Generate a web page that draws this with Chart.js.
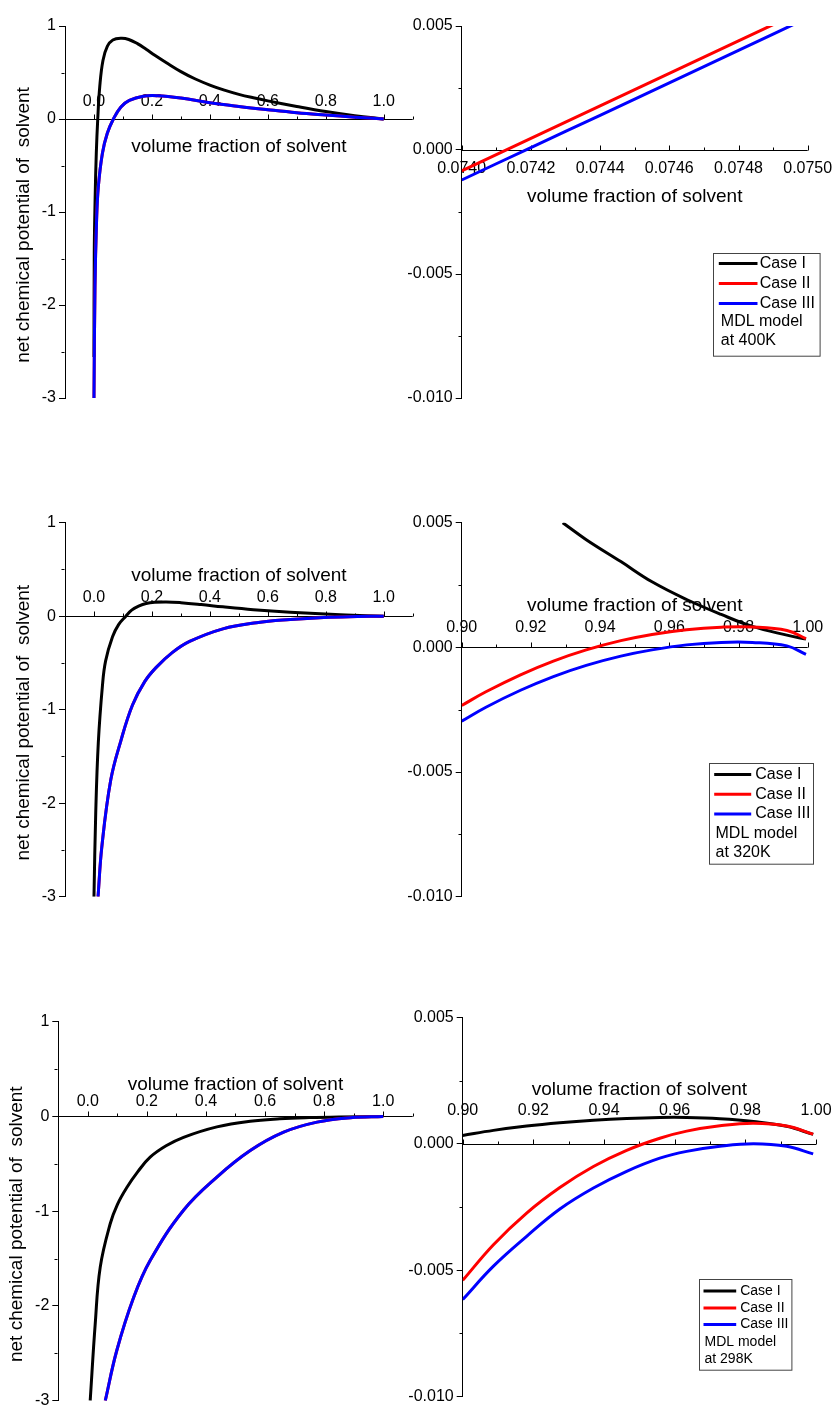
<!DOCTYPE html>
<html>
<head>
<meta charset="utf-8">
<title>net chemical potential of solvent - MDL model</title>
<script src="https://cdn.jsdelivr.net/npm/chart.js@4.4.0/dist/chart.umd.min.js"></script>
<style>
    html, body { margin: 0; padding: 0; background: #fff; overflow: hidden; }
    #wrap { position: relative; width: 836px; height: 1405px; }
    canvas { position: absolute; }
</style>
</head>
<body>
<div id="wrap">
    <canvas id="c1L"></canvas>
    <canvas id="c1R"></canvas>
    <canvas id="c2L"></canvas>
    <canvas id="c2R"></canvas>
    <canvas id="c3L"></canvas>
    <canvas id="c3R"></canvas>
</div>
<script>
// ═══════════════════════════════════════════════════════════════
// DATA
// ═══════════════════════════════════════════════════════════════

var caseLabels = ['Case I', 'Case II', 'Case III'];
var caseColors = ['#000000', '#ff0000', '#0000ff'];
var xTitle     = 'volume fraction of solvent';
var yTitle     = 'net chemical potential of  solvent';

// ticks, full range panels (left)
var xLabelsWide = ['0.0', '0.2', '0.4', '0.6', '0.8', '1.0'];
var xMinorWide  = [0.1, 0.3, 0.5, 0.7, 0.9, 1.1];
var yTicksWide  = [-3, -2, -1, 0, 1];
var yLabelsWide = ['-3', '-2', '-1', '0', '1'];
var yMinorWide  = [-2.5, -1.5, -0.5, 0.5];

// ticks, zoomed panels (right)
var yTicksZoom  = [-0.010, -0.005, 0, 0.005];
var yLabelsZoom = ['-0.010', '-0.005', '0.000', '0.005'];
var yMinorZoom  = [-0.0075, -0.0025, 0.0025];
var xLabels400  = ['0.0740', '0.0742', '0.0744', '0.0746', '0.0748', '0.0750'];
var xMinor400   = [0.0741, 0.0743, 0.0745, 0.0747, 0.0749];
var xLabelsEnd  = ['0.90', '0.92', '0.94', '0.96', '0.98', '1.00'];
var xMinorEnd   = [0.91, 0.93, 0.95, 0.97, 0.99];

// 400K, full range
var x400I   = [0.000, 0.001, 0.004, 0.008, 0.013, 0.020, 0.031, 0.046, 0.065, 0.095, 0.12, 0.15, 0.18, 0.21, 0.25, 0.30, 0.35, 0.40, 0.45, 0.50, 0.55, 0.60, 0.70, 0.80, 0.90, 1.00];
var y400I   = [-2.56, -1.44, -0.85, -0.37, 0.00, 0.35, 0.63, 0.78, 0.85, 0.868, 0.855, 0.81, 0.75, 0.685, 0.605, 0.51, 0.43, 0.365, 0.31, 0.265, 0.228, 0.195, 0.135, 0.08, 0.035, 0.00];
var x400II  = [0.000, 0.0035, 0.009, 0.015, 0.029, 0.046, 0.067, 0.093, 0.122, 0.17, 0.22, 0.30, 0.40, 0.50, 0.60, 0.70, 0.80, 0.90, 1.00];
var y400II  = [-3.00, -1.80, -1.09, -0.73, -0.37, -0.154, 0.00, 0.13, 0.20, 0.245, 0.25, 0.225, 0.175, 0.135, 0.10, 0.068, 0.043, 0.02, 0.00];
var x400III = [0.000, 0.0035, 0.009, 0.015, 0.029, 0.046, 0.067, 0.093, 0.122, 0.17, 0.22, 0.30, 0.40, 0.50, 0.60, 0.70, 0.80, 0.90, 1.00];
var y400III = [-3.00, -1.80, -1.09, -0.73, -0.37, -0.154, 0.00, 0.13, 0.20, 0.245, 0.25, 0.225, 0.175, 0.135, 0.10, 0.068, 0.043, 0.02, 0.00];

// 400K, zoom near the zero crossing (Case I is far above this window)
var x400zI   = [];
var y400zI   = [];
var x400z    = [0.0740, 0.0742, 0.0744, 0.0746, 0.0748, 0.0750];
var y400zII  = [-0.00084, 0.00047, 0.00178, 0.00309, 0.00440, 0.00571];
var y400zIII = [-0.00121, 0.00010, 0.00140, 0.00271, 0.00402, 0.00533];

// 320K, full range
var x320I   = [0.000, 0.006, 0.015, 0.029, 0.040, 0.064, 0.085, 0.110, 0.13, 0.156, 0.18, 0.21, 0.249, 0.30, 0.37, 0.445, 0.55, 0.677, 0.85, 1.00];
var y320I   = [-3.00, -2.11, -1.35, -0.75, -0.48, -0.22, -0.09, 0.00, 0.065, 0.11, 0.135, 0.148, 0.153, 0.145, 0.125, 0.10, 0.07, 0.043, 0.016, 0.00];
var x320II  = [0.014, 0.027, 0.058, 0.093, 0.133, 0.175, 0.214, 0.27, 0.33, 0.445, 0.561, 0.677, 0.793, 0.909, 1.00];
var y320II  = [-3.00, -2.47, -1.75, -1.33, -0.95, -0.70, -0.55, -0.39, -0.27, -0.135, -0.07, -0.036, -0.014, -0.004, 0.00];
var x320III = [0.014, 0.027, 0.058, 0.093, 0.133, 0.175, 0.214, 0.27, 0.33, 0.445, 0.561, 0.677, 0.793, 0.909, 1.00];
var y320III = [-3.00, -2.47, -1.75, -1.33, -0.95, -0.70, -0.55, -0.39, -0.27, -0.135, -0.07, -0.036, -0.014, -0.004, 0.00];

// 320K, zoom 0.90 - 1.00
var x320zI   = [0.9292, 0.936, 0.946, 0.955, 0.965, 0.975, 0.984, 0.994, 0.9995];
var y320zI   = [0.0050, 0.00432, 0.00344, 0.00263, 0.00192, 0.00132, 0.00084, 0.00049, 0.00033];
var x320z    = [0.900, 0.907, 0.917, 0.9265, 0.936, 0.946, 0.955, 0.965, 0.975, 0.984, 0.994, 0.9995];
var y320zII  = [-0.00233, -0.00178, -0.00110, -0.00055, -0.00010, 0.00027, 0.00052, 0.00071, 0.00081, 0.00082, 0.00068, 0.00035];
var y320zIII = [-0.00296, -0.00240, -0.00172, -0.00117, -0.00072, -0.00035, -0.00010, 0.00010, 0.00020, 0.00020, 0.00006, -0.00028];

// 298K, full range
var x298I   = [0.008, 0.025, 0.042, 0.076, 0.10, 0.132, 0.17, 0.211, 0.265, 0.324, 0.437, 0.55, 0.65, 0.75, 0.85, 1.00];
var y298I   = [-3.00, -2.19, -1.59, -1.13, -0.93, -0.75, -0.58, -0.43, -0.31, -0.22, -0.11, -0.05, -0.025, -0.012, -0.005, 0.00];
var x298II  = [0.059, 0.098, 0.155, 0.211, 0.324, 0.437, 0.55, 0.663, 0.776, 0.89, 1.00];
var y298II  = [-3.00, -2.47, -1.91, -1.52, -0.99, -0.64, -0.36, -0.166, -0.06, -0.013, 0.00];
var x298III = [0.059, 0.098, 0.155, 0.211, 0.324, 0.437, 0.55, 0.663, 0.776, 0.89, 1.00];
var y298III = [-3.00, -2.47, -1.91, -1.52, -0.99, -0.64, -0.36, -0.166, -0.06, -0.013, 0.00];

// 298K, zoom 0.90 - 1.00
var x298z    = [0.900, 0.9087, 0.9181, 0.9275, 0.937, 0.9464, 0.9558, 0.9634, 0.9728, 0.9823, 0.9917, 0.9992];
var y298zI   = [0.00033, 0.00053, 0.00070, 0.00083, 0.00093, 0.00100, 0.00104, 0.00104, 0.00099, 0.00088, 0.00069, 0.00037];
var y298zII  = [-0.00540, -0.00399, -0.00274, -0.00173, -0.00090, -0.00026, 0.00022, 0.00050, 0.00071, 0.00081, 0.00070, 0.00038];
var y298zIII = [-0.00616, -0.00484, -0.00366, -0.00258, -0.00175, -0.00109, -0.00057, -0.00030, -0.00010, 0.00000, -0.00010, -0.00040];

// ═══════════════════════════════════════════════════════════════
// PANEL LAYOUT
// ═══════════════════════════════════════════════════════════════

var FONT = '"Liberation Sans", Arial, sans-serif';

var wide = { xMin: -0.1, xMax: 1.1, yMin: -3, yMax: 1, yTicks: yTicksWide, yLabels: yLabelsWide, yMinor: yMinorWide, xLabels: xLabelsWide, xMinor: xMinorWide };

var panels = [
    { id: 'c1L', box: [0, 0, 418, 480],     area: [65, 26, 412.7, 398],
      axes: wide, labelDy: -13.7, titleDy: 32.7, yTitle: true,
      series: [[x400I, y400I], [x400II, y400II], [x400III, y400III]] },
    { id: 'c1R', box: [395, 0, 441, 480],   area: [461.7, 26, 807.7, 398],
      axes: { xMin: 0.0740, xMax: 0.0750, yMin: -0.010, yMax: 0.005, yTicks: yTicksZoom, yLabels: yLabelsZoom, yMinor: yMinorZoom, xLabels: xLabels400, xMinor: xMinor400 },
      labelDy: 22.7, titleDy: 51.7, note: 'at 400K',
      legend: { dx: 251, dy: 227.3, w: 106.6, h: 102.7, font: 16, rows: [10, 30, 50, 68.4, 86.7], line: [5.3, 44], textX: 46.3, noteX: 7.3 },
      series: [[x400zI, y400zI], [x400z, y400zII], [x400z, y400zIII]] },
    { id: 'c2L', box: [0, 480, 418, 480],   area: [65, 522.7, 412.7, 896.7],
      axes: wide, labelDy: -15, titleDy: -36, yTitle: true,
      series: [[x320I, y320I], [x320II, y320II], [x320III, y320III]] },
    { id: 'c2R', box: [395, 480, 441, 480], area: [461.7, 522.7, 807.7, 896.7],
      axes: { xMin: 0.90, xMax: 1.00, yMin: -0.010, yMax: 0.005, yTicks: yTicksZoom, yLabels: yLabelsZoom, yMinor: yMinorZoom, xLabels: xLabelsEnd, xMinor: xMinorEnd },
      labelDy: -15.3, titleDy: -37, note: 'at 320K',
      legend: { dx: 247.6, dy: 240.6, w: 104, h: 100.7, font: 16, rows: [11, 30.7, 50.4, 70, 89.4], line: [4.7, 41.7], textX: 45.7, noteX: 6 },
      series: [[x320zI, y320zI], [x320z, y320zII], [x320z, y320zIII]] },
    { id: 'c3L', box: [0, 960, 418, 470],   area: [58.3, 1021.7, 412.7, 1400.7],
      axes: wide, labelDy: -11, titleDy: -27, yTitle: true,
      series: [[x298I, y298I], [x298II, y298II], [x298III, y298III]] },
    { id: 'c3R', box: [395, 960, 441, 470], area: [462.7, 1017.3, 816, 1396.7],
      axes: { xMin: 0.90, xMax: 1.00, yMin: -0.010, yMax: 0.005, yTicks: yTicksZoom, yLabels: yLabelsZoom, yMinor: yMinorZoom, xLabels: xLabelsEnd, xMinor: xMinorEnd },
      labelDy: -30, titleDy: -50, note: 'at 298K',
      legend: { dx: 236.6, dy: 262, w: 92.4, h: 90.7, font: 14, rows: [11.4, 28.4, 45, 63, 80], line: [4, 36.7], textX: 40.7, noteX: 5 },
      series: [[x298z, y298zI], [x298z, y298zII], [x298z, y298zIII]] }
];

// ═══════════════════════════════════════════════════════════════
// HELPERS
// ═══════════════════════════════════════════════════════════════

function pts(xs, ys) {
    return xs.map(function (x, i) { return { x: x, y: ys[i] }; });
}

// x axis sits on y = 0, with the labels above or below it
function makeFrame(p) {
    return {
        id: 'frame_' + p.id,
        beforeDatasetsDraw: function (chart) {
            var ctx = chart.ctx, a = chart.chartArea;
            var sx = chart.scales.x, sy = chart.scales.y;
            var y0 = Math.round(sy.getPixelForValue(0)) + 0.5;
            var yl = Math.round(a.left) - 0.5;

            ctx.save();
            ctx.strokeStyle = '#000';
            ctx.lineWidth = 1;
            ctx.beginPath();
            ctx.moveTo(a.left, y0);
            ctx.lineTo(a.right, y0);
            p.axes.xLabels.forEach(function (t) {
                var px = Math.round(sx.getPixelForValue(parseFloat(t))) + 0.5;
                ctx.moveTo(px, y0);
                ctx.lineTo(px, y0 - 5);
            });
            p.axes.xMinor.forEach(function (v) {
                var px = Math.round(sx.getPixelForValue(v)) + 0.5;
                ctx.moveTo(px, y0);
                ctx.lineTo(px, y0 - 3);
            });
            p.axes.yMinor.forEach(function (v) {
                var py = Math.round(sy.getPixelForValue(v)) + 0.5;
                ctx.moveTo(yl, py);
                ctx.lineTo(yl - 3, py);
            });
            ctx.stroke();

            ctx.fillStyle = '#000';
            ctx.textAlign = 'center';
            ctx.textBaseline = 'alphabetic';
            ctx.font = '16px ' + FONT;
            p.axes.xLabels.forEach(function (t) {
                ctx.fillText(t, sx.getPixelForValue(parseFloat(t)), y0 + p.labelDy);
            });
            ctx.font = '19px ' + FONT;
            ctx.fillText(xTitle, (a.left + a.right) / 2, y0 + p.titleDy);

            if (p.yTitle) {
                ctx.translate(a.left - 41.5, (a.top + a.bottom) / 2 + 13);
                ctx.rotate(-Math.PI / 2);
                ctx.textBaseline = 'middle';
                ctx.fillText(yTitle, 0, 0);
            }
            ctx.restore();
        },
        afterDatasetsDraw: function (chart) {
            var L = p.legend;
            if (!L) return;
            var ctx = chart.ctx, a = chart.chartArea;
            var bx = Math.round(a.left + L.dx) + 0.5, by = Math.round(a.top + L.dy) + 0.5;

            ctx.save();
            ctx.fillStyle = '#fff';
            ctx.fillRect(bx, by, L.w, L.h);
            ctx.strokeStyle = '#444';
            ctx.lineWidth = 1;
            ctx.strokeRect(bx, by, L.w, L.h);

            ctx.font = L.font + 'px ' + FONT;
            ctx.textAlign = 'left';
            ctx.textBaseline = 'middle';
            chart.data.datasets.forEach(function (ds, i) {
                var ry = by + L.rows[i];
                ctx.strokeStyle = ds.borderColor;
                ctx.lineWidth = 3;
                ctx.beginPath();
                ctx.moveTo(bx + L.line[0], ry);
                ctx.lineTo(bx + L.line[1], ry);
                ctx.stroke();
                ctx.fillStyle = '#000';
                ctx.fillText(ds.label, bx + L.textX, ry);
            });
            ctx.fillText('MDL model', bx + L.noteX, by + L.rows[3]);
            ctx.fillText(p.note, bx + L.noteX, by + L.rows[4]);
            ctx.restore();
        }
    };
}

// ═══════════════════════════════════════════════════════════════
// CHARTS
// ═══════════════════════════════════════════════════════════════

Chart.defaults.font.family = FONT;
Chart.defaults.color = '#000';

panels.forEach(function (p) {
    var cv = document.getElementById(p.id);
    cv.width = p.box[2];
    cv.height = p.box[3];
    cv.style.left = p.box[0] + 'px';
    cv.style.top = p.box[1] + 'px';

    var yW = p.area[0] - p.box[0];
    var ax = p.axes;

    var datasets = p.series.map(function (s, i) {
        return {
            label: caseLabels[i],
            data: pts(s[0], s[1]),
            borderColor: caseColors[i],
            backgroundColor: caseColors[i],
            borderWidth: 3,
            pointRadius: 0,
            fill: false,
            tension: 0.4,
            order: 3 - i
        };
    });

    new Chart(cv.getContext('2d'), {
        type: 'line',
        data: { datasets: datasets },
        options: {
            responsive: false,
            animation: false,
            devicePixelRatio: 1,
            layout: {
                padding: {
                    left: 0,
                    top: p.area[1] - p.box[1],
                    right: p.box[0] + p.box[2] - p.area[2],
                    bottom: p.box[1] + p.box[3] - p.area[3]
                }
            },
            plugins: { legend: { display: false }, tooltip: { enabled: false } },
            scales: {
                x: { type: 'linear', display: false, min: ax.xMin, max: ax.xMax },
                y: {
                    type: 'linear',
                    min: ax.yMin,
                    max: ax.yMax,
                    afterFit: function (s) { s.width = yW; },
                    afterBuildTicks: function (s) {
                        s.ticks = ax.yTicks.map(function (v) { return { value: v }; });
                    },
                    grid: { drawOnChartArea: false, drawTicks: true, tickLength: 6, color: '#000', lineWidth: 1 },
                    border: { display: true, color: '#000', width: 1 },
                    ticks: {
                        padding: 3,
                        font: { size: 16 },
                        color: '#000',
                        callback: function (v, i) { return ax.yLabels[i]; }
                    }
                }
            }
        },
        plugins: [makeFrame(p)]
    });
});
</script>
</body>
</html>
